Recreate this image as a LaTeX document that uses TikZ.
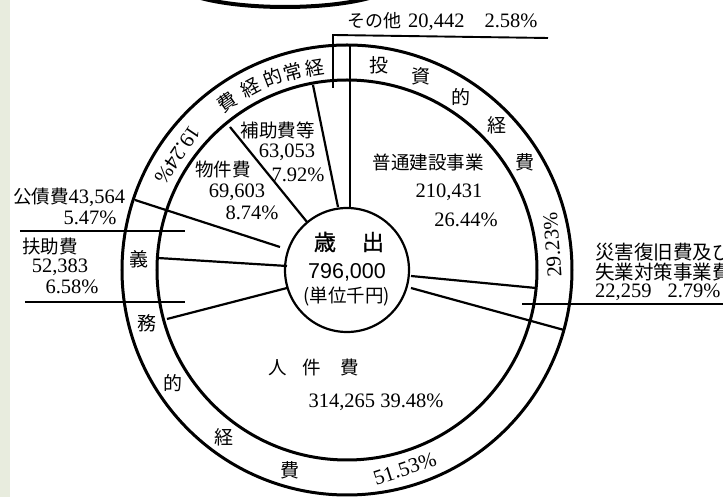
\documentclass[tikz,border=0pt]{standalone}
\usepackage{fontspec}
\setmainfont{Liberation Serif}
\newfontfamily\cjk{Noto Sans CJK JP}
\newfontfamily\cjkb[FakeBold=1.2]{Noto Sans CJK JP}
\newfontfamily\lsans{Liberation Sans}
\definecolor{stripcol}{RGB}{232,236,222}
\begin{document}
\begin{tikzpicture}[x=1pt,y=1pt,
  ringline/.style={line width=3pt},
  segline/.style={line width=2.2pt},
  leadline/.style={line width=1.9pt},
  jp/.style={font=\cjk\fontsize{18.5}{20}\selectfont, inner sep=0pt},
  num/.style={font=\fontsize{20.5}{22}\selectfont, inner sep=0pt},
  rc/.style={font=\cjk\fontsize{19}{20}\selectfont, inner sep=0pt},
  rnum/.style={font=\fontsize{21}{22}\selectfont, inner sep=0pt},
]
\clip (-347,-227) rectangle (376,270);
\fill[white] (-347,-227) rectangle (376,270);
\fill[stripcol] (-347,-227) rectangle (-337,270);
% fragment of the figure above
\draw[line width=4pt] (-62,290) ellipse [x radius=113, y radius=27];
% rings
\coordinate (O) at (0,0);
\draw[ringline] (O) circle (225);
\draw[ringline] (O) circle (190);
\draw[segline] (O) circle (62);
% sector boundaries
\coordinate (s1a) at (3,62);    \coordinate (s1b) at (3,224);
\coordinate (s2a) at (-9,63);   \coordinate (s2b) at (-34,185);
\coordinate (s3a) at (-40,48);  \coordinate (s3b) at (-117,143);
\coordinate (s4a) at (-67,23);  \coordinate (s4b) at (-212,70);
\coordinate (s5a) at (-60,4);   \coordinate (s5b) at (-189,12);
\coordinate (s6a) at (-60,-18); \coordinate (s6b) at (-180,-49);
\coordinate (s7a) at (64,-6);   \coordinate (s7b) at (189,-18);
\coordinate (s8a) at (64,-18);  \coordinate (s8b) at (217,-60);
\foreach \i in {1,...,8} {\draw[segline] (s\i a) -- (s\i b);}
% leader lines
\coordinate (l1a) at (-14,182); \coordinate (l1b) at (-14,235); \coordinate (l1c) at (201,232);
\draw[leadline] (l1a) -- (l1b) -- (l1c);
\coordinate (l2a) at (-327,39); \coordinate (l2b) at (-162,39);
\draw[leadline] (l2a) -- (l2b);
\coordinate (l3a) at (-322,-32); \coordinate (l3b) at (-162,-32);
\draw[leadline] (l3a) -- (l3b);
\coordinate (l4a) at (175,-34); \coordinate (l4b) at (376,-34);
\draw[leadline] (l4a) -- (l4b);
% centre
\node[inner sep=0pt, font=\cjkb\fontsize{22}{23}\selectfont] (sai) at (-22,28) {歳};
\node[inner sep=0pt, font=\cjkb\fontsize{22}{23}\selectfont] (shutsu) at (26,28) {出};
\node[inner sep=0pt, font=\lsans\fontsize{21.5}{22}\selectfont] (total) at (0,-2) {796,000};
\node[inner sep=0pt, font=\cjk\fontsize{18.5}{20}\selectfont] (unit) at (0,-27) {(単位千円)};
% inner labels
\node[jp] (futsu) at (81,108) {普通建設事業};
\node[num] (futsuv) at (102,78) {210,431};
\node[num] (futsup) at (119,50) {26.44\%};
\node[jp] (hojo) at (-69,140) {補助費等};
\node[num] (hojov) at (-60,118) {63,053};
\node[num] (hojop) at (-49,95) {7.92\%};
\node[jp] (bukken) at (-124,100) {物件費};
\node[num] (bukkenv) at (-110,78) {69,603};
\node[num] (bukkenp) at (-95,57) {8.74\%};
\node[num, anchor=west] (kosai) at (-334,73) {{\cjk\fontsize{18.5}{20}\selectfont 公債費}43,564};
\node[num] (kosaip) at (-257,52) {5.47\%};
\node[jp] (fujo) at (-297,23) {扶助費};
\node[num] (fujov) at (-287,3) {52,383};
\node[num] (fujop) at (-275,-17) {6.58\%};
\node[jp] (jin1) at (-69,-98) {人};
\node[jp] (jin2) at (-35,-98) {件};
\node[jp] (jin3) at (3,-98) {費};
\node[num] (jinv) at (29,-132) {314,265 39.48\%};
\node[jp, anchor=west, font=\cjk\fontsize{19.5}{21}\selectfont] (saigai1) at (248,18) {災害復旧費及び};
\node[jp, anchor=west, font=\cjk\fontsize{19.5}{21}\selectfont] (saigai2) at (248,-2) {失業対策事業費};
\node[num, anchor=west] (saigaiv) at (248,-22) {22,259\hspace{16pt}2.79\%};
\node[num, anchor=west] (sonota) at (0,248) {{\cjk\fontsize{18}{20}\selectfont その他}\hspace{7pt}20,442\hspace{20pt}2.58\%};
% ring texts: keijoteki keihi
\node[rc, rotate=9] (k1) at (99:205) {経};
\node[rc, rotate=15] (k2) at (105.3:205) {常};
\node[rc, rotate=21] (k3) at (111:206) {的};
\node[rc, rotate=28] (k4) at (118:206) {経};
\node[rc, rotate=35] (k5) at (125.5:206) {費};
\node[rnum, rotate=236] (kp) at (145.8:205) {19.24\%};
% toshiteki keihi
\node[rc] (t1) at (81:207) {投};
\node[rc] (t2) at (69:207) {資};
\node[rc] (t3) at (56.6:207) {的};
\node[rc] (t4) at (44:208) {経};
\node[rc] (t5) at (31.3:208) {費};
\node[rnum, rotate=94] (tp) at (7:207) {29.23\%};
% gimuteki keihi
\node[rc] (g1) at (177:208) {義};
\node[rc] (g2) at (194.8:207) {務};
\node[rc] (g3) at (213:207) {的};
\node[rc] (g4) at (233.7:207) {経};
\node[rc] (g5) at (254:208) {費};
\node[rnum, rotate=18] (gp) at (286.2:207) {51.53\%};
\end{tikzpicture}
\end{document}
